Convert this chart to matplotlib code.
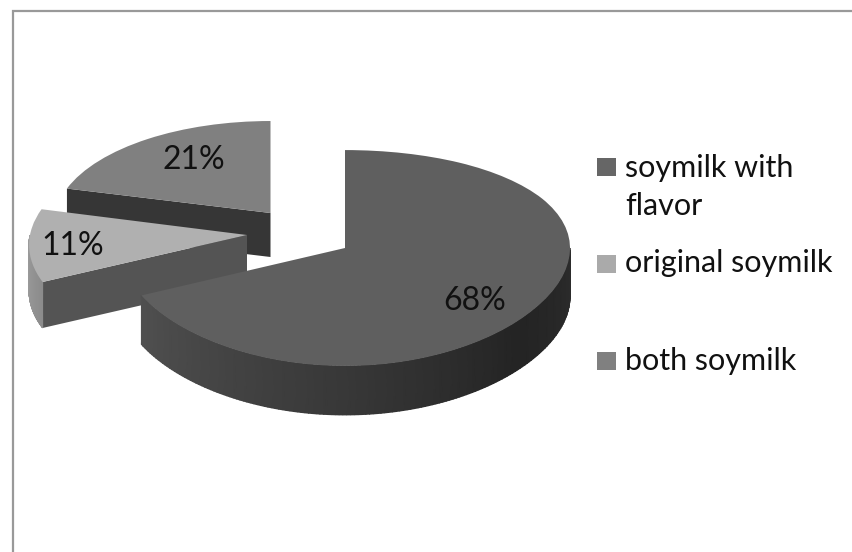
import matplotlib
matplotlib.use('Agg')
import matplotlib.pyplot as plt
import numpy as np
from matplotlib.patches import Rectangle
from matplotlib.transforms import Transform

# Data
labels = ['soymilk with\nflavor', 'original soymilk', 'both soymilk']
values = [68, 11, 21]

# Colours of the faces
top_colors = ['#5f5f5f', '#b0b0b0', '#808080']
swatch_colors = ['#666666', '#aaaaaa', '#808080']
cut_colors = [None, '#545454', '#363636']

# Layout in pixels of the picture: apex x, apex y, radius x, radius y, perspective
geometry = [(345, 248, 225, 107, 0.0),
            (247, 235, 217, 106, 0.0926),
            (270.5, 213, 215, 100.5, 0.0926)]
persp_y = 0.0926
depths = [49, 46, 44]
pct_pos = [(475, 301), (73, 246), (194, 160)]
legend_y = [167, 264, 361]
legend_text_y = [187, 263, 361]

# Shade of the outer wall against wedge angle
rim_angles = [[-155, -90, -40, 0], [-180, -155], None]
rim_shades = [[80, 56, 36, 44], [160, 140], None]


class Perspective(Transform):
    input_dims = 2
    output_dims = 2

    def __init__(self, cx, cy, rx, ry, bx):
        super().__init__()
        self.cx, self.cy, self.rx, self.ry, self.bx = cx, cy, rx, ry, bx

    def transform_non_affine(self, values):
        xy = np.asarray(values, dtype=float)
        x, y = xy[:, 0], xy[:, 1]
        return np.column_stack([self.cx + self.rx * x / (1 + self.bx * y),
                                self.cy - self.ry * y / (1 + persp_y * y)])


fig = plt.figure(figsize=(8.52, 5.52), dpi=100)
ax = fig.add_axes([0, 0, 1, 1])

wedges, _, autotexts = ax.pie(values, colors=top_colors, startangle=90,
                              counterclock=False, autopct='%d%%',
                              wedgeprops={'linewidth': 0})

text_size = 22
pct_size = 23

for i, w in enumerate(wedges):
    persp = Perspective(*geometry[i])
    base = 2 * (3 - i)  # the big slice is in front, the 21% one at the back
    w.set_transform(persp + ax.transData)
    w.set_zorder(base + 1)

    # Wall cut along the radius
    if cut_colors[i]:
        a = np.radians(w.theta2)
        pts = persp.transform(np.array([[0, 0], [np.cos(a), np.sin(a)]]))
        ax.fill([pts[0, 0], pts[1, 0], pts[1, 0], pts[0, 0]],
                [pts[0, 1], pts[1, 1], pts[1, 1] + depths[i], pts[0, 1] + depths[i]],
                color=cut_colors[i], lw=0, zorder=base)

    # Outer wall, only the part that faces the viewer
    if rim_angles[i]:
        t = np.linspace(max(w.theta1, -180), min(w.theta2, 0), 160)
        rim = persp.transform(np.column_stack([np.cos(np.radians(t)), np.sin(np.radians(t))]))
        shade = np.interp(t, rim_angles[i], rim_shades[i])
        ax.pcolormesh(np.vstack([rim[:, 0], rim[:, 0]]),
                      np.vstack([rim[:, 1], rim[:, 1] + depths[i]]),
                      np.vstack([shade, shade]), shading='gouraud',
                      cmap='gray', vmin=0, vmax=255, zorder=base)

    autotexts[i].set_position(pct_pos[i])
    autotexts[i].set(ha='center', va='center', fontsize=pct_size, family='Lato',
                     color='#111111', zorder=20)

# Legend by hand, the rows are not evenly spaced
for i, lab in enumerate(labels):
    ax.add_patch(Rectangle((597, legend_y[i] - 9), 19, 18, color=swatch_colors[i], lw=0))
    ax.text(625, legend_text_y[i], lab, fontsize=text_size, family='Lato', color='#111111',
            ha='left', va='center', linespacing=1.45)

# Grey border of the chart area
ax.plot([12.5, 12.5, 852], [552, 10.5, 10.5], color='#999999', lw=1.6, solid_joinstyle='miter')

ax.set_aspect('auto')
ax.set_xlim(0, 852)
ax.set_ylim(552, 0)
ax.axis('off')

fig.savefig('out.png', dpi=100)
